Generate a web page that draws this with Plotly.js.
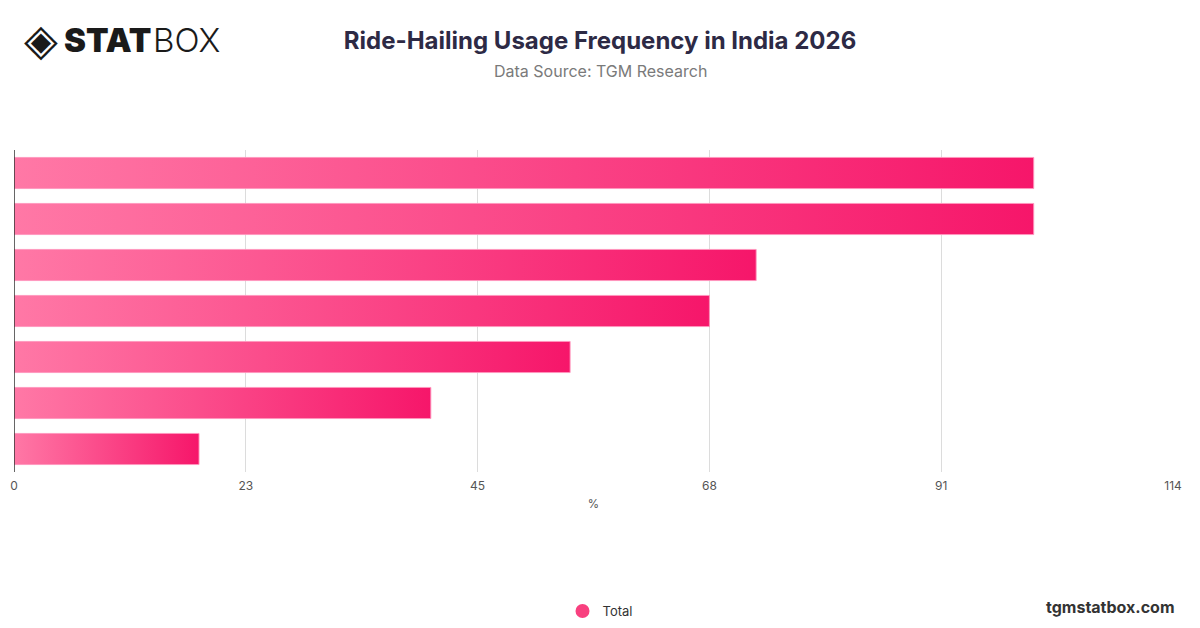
<!DOCTYPE html>
<html>
<head>
<meta charset="utf-8">
<script src="https://cdn.plot.ly/plotly-3.0.1.min.js"></script>
<style>
html,body{margin:0;padding:0;background:#fff;}
#chart{width:1200px;height:628px;}
</style>
</head>
<body>
<div id="chart"></div>
<script>
// ---- data ----
const categories = ["Row 1", "Row 2", "Row 3", "Row 4", "Row 5", "Row 6", "Row 7"];
const values = [100.3, 100.3, 73.0, 68.4, 54.7, 41.0, 18.2];
const seriesName = "Total";
const tickValues = [0, 22.8, 45.6, 68.4, 91.2, 114];
const tickLabels = ["0", "23", "45", "68", "91", "114"];
const axisMax = 114;
const xAxisTitle = "%";

// ---- styling ----
const colorLight = "#ff78a6";
const colorDark = "#f6166a";
const half = 0.338;

const traces = [];
values.forEach((v, i) => {
  traces.push({
    type: "scatter",
    mode: "lines",
    x: [0, v, v, 0, 0],
    y: [i - half, i - half, i + half, i + half, i - half],
    fill: "toself",
    fillgradient: {
      type: "horizontal",
      colorscale: [[0, colorLight], [1, colorDark]]
    },
    line: {color: "rgba(255,150,190,0.9)", width: 1},
    name: categories[i],
    showlegend: false,
    hoverinfo: "x",
    text: categories[i]
  });
});
// legend entry
traces.push({
  type: "scatter",
  mode: "markers",
  x: [null], y: [null],
  name: seriesName,
  marker: {size: 14, color: "#f8407f", symbol: "circle"},
  showlegend: true
});

const L = 14, R = 1173, T = 150, B = 472;
const px = x => (x - L) / (R - L);
const py = y => (B - y) / (B - T);

const layout = {
  width: 1200, height: 628,
  paper_bgcolor: "#fff", plot_bgcolor: "#fff",
  margin: {l: L, r: 1200 - R, t: T, b: 628 - B},
  font: {family: "Inter, 'Open Sans', sans-serif", color: "#555"},
  title: {
    text: "Ride-Hailing Usage Frequency in India 2026",
    x: 0.5, xanchor: "center", xref: "container",
    y: 0.935, yanchor: "middle", yref: "container",
    font: {family: "Inter, sans-serif", size: 24, color: "#2d2a45", weight: 700}
  },
  xaxis: {
    range: [0, axisMax],
    tickvals: tickValues,
    ticktext: tickLabels,
    showgrid: true, gridcolor: "#dcdcdc", gridwidth: 1,
    zeroline: false,
    showline: false,
    ticks: "outside", ticklen: 3, tickcolor: "rgba(0,0,0,0)",
    tickfont: {size: 12, color: "#555"},
    title: {text: xAxisTitle, font: {size: 11.5, color: "#555"}, standoff: 7},
    fixedrange: true
  },
  yaxis: {
    range: [values.length - 0.5, -0.5],
    showticklabels: false,
    showgrid: false,
    zeroline: false,
    showline: false,
    ticks: "",
    fixedrange: true
  },
  shapes: [
    {type: "line", xref: "x", yref: "paper", x0: 0, x1: 0, y0: 0, y1: 1,
     line: {color: "#333", width: 1.5}}
  ],
  legend: {
    orientation: "h",
    x: 0.5, xanchor: "center", xref: "container",
    y: 0.027, yanchor: "middle", yref: "container",
    font: {size: 13, color: "#333"},
    itemclick: false
  },
  annotations: [
    {text: "Data Source: TGM Research", xref: "paper", yref: "paper",
     x: px(600), xanchor: "center", y: py(71), yanchor: "middle", showarrow: false,
     font: {family: "Inter, sans-serif", size: 16, color: "#7a7a7a"}},
    {text: "tgmstatbox.com", xref: "paper", yref: "paper",
     x: px(1177), xanchor: "right", y: py(607), yanchor: "middle", showarrow: false,
     font: {family: "Inter, sans-serif", size: 16, color: "#333", weight: 700}},
    {text: "STAT", xref: "paper", yref: "paper",
     x: px(62), xanchor: "left", y: py(40), yanchor: "middle", showarrow: false,
     font: {family: "Inter, sans-serif", size: 33, color: "#1a1a1a", weight: 900}},
    {text: "BOX", xref: "paper", yref: "paper",
     x: px(151), xanchor: "left", y: py(40), yanchor: "middle", showarrow: false,
     font: {family: "Inter, sans-serif", size: 33, color: "#1a1a1a", weight: 300}},
    {text: "◈", xref: "paper", yref: "paper",
     x: px(22), xanchor: "left", y: py(40), yanchor: "middle", showarrow: false,
     font: {family: "DejaVu Sans, sans-serif", size: 44, color: "#1a1a1a"}}
  ]
};

Plotly.newPlot("chart", traces, layout, {displayModeBar: false});
</script>
</body>
</html>
